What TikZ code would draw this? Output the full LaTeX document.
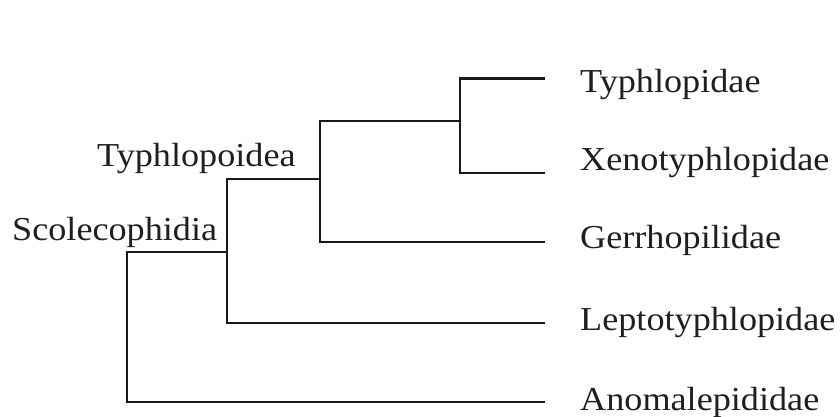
\documentclass[tikz,border=0pt]{standalone}
\usepackage{fontspec}
\setmainfont{Liberation Serif}[FakeStretch=1.08]
\begin{document}
\begin{tikzpicture}[x=1pt,y=-1pt,
  branch/.style={line width=2.1pt,draw=black!90,line join=miter},
  taxon/.style={anchor=base west,inner sep=0pt,text=black!88,font=\fontsize{33.5}{36}\selectfont}]
\useasboundingbox[fill=white] (0,0) rectangle (840,416);

% leaf tips
\coordinate (tT) at (545,78.5);
\coordinate (tX) at (545,173);
\coordinate (tG) at (545,242);
\coordinate (tL) at (545,323);
\coordinate (tA) at (545,402);

% internal nodes (top of each vertical bar and its stem joint)
\coordinate (c0a) at (127,252);
\coordinate (c1m) at (227,252);
\coordinate (c1a) at (227,179);
\coordinate (c2m) at (320,179);
\coordinate (c2a) at (320,121);
\coordinate (c3m) at (460,121);
\coordinate (c3a) at (460,78.5);

% branches
\draw[branch] (tA) -| (c0a) -- (c1m);
\draw[branch] (tL) -| (c1a) -- (c2m);
\draw[branch] (tG) -| (c2a) -- (c3m);
\draw[branch] (tX) -| (c3a) -- (tT);

% taxon labels
\node[taxon] (typh)  at (580,92)  {Typhlopidae};
\node[taxon] (xeno)  at (580,170) {Xenotyphlopidae};
\node[taxon] (gerr)  at (580,248) {Gerrhopilidae};
\node[taxon] (lept)  at (580,330) {Leptotyphlopidae};
\node[taxon] (anom)  at (580,410) {Anomalepididae};

% clade labels
\node[taxon] (typhlo) at (97,166) {Typhlopoidea};
\node[taxon] (scole)  at (12,240) {Scolecophidia};
\end{tikzpicture}
\end{document}
